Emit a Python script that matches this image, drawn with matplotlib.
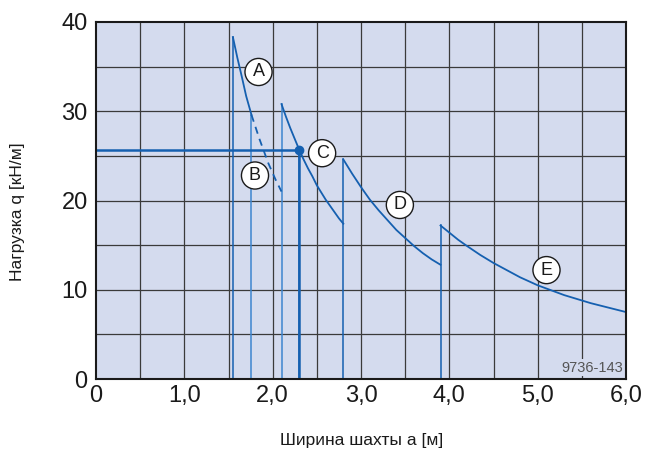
import matplotlib
matplotlib.use("Agg")
import matplotlib.pyplot as plt
from matplotlib import font_manager

names = {f.name for f in font_manager.fontManager.ttflist}
narrow = 'Liberation Sans Narrow' if 'Liberation Sans Narrow' in names else 'Liberation Sans'

plt.rcParams['font.family'] = ['Liberation Sans', 'DejaVu Sans']

# Data
a_x = [1.55, 1.60, 1.65, 1.70, 1.76]
a_y = [38.3, 36.0, 33.9, 31.7, 29.6]
b_x = [1.76, 1.85, 1.95, 2.03, 2.10]
b_y = [29.6, 26.9, 24.2, 22.4, 21.0]
c_x = [2.10, 2.15, 2.20, 2.25, 2.30, 2.35, 2.40, 2.45, 2.50, 2.55, 2.60, 2.65, 2.70, 2.75, 2.80]
c_y = [30.8, 29.4, 28.1, 26.9, 25.7, 24.6, 23.6, 22.7, 21.7, 20.9, 20.1, 19.4, 18.7, 18.0, 17.4]
d_x = [2.80, 2.90, 3.00, 3.10, 3.20, 3.30, 3.40, 3.50, 3.60, 3.70, 3.80, 3.90]
d_y = [24.6, 23.0, 21.5, 20.1, 18.9, 17.8, 16.7, 15.8, 14.9, 14.1, 13.4, 12.8]
e_x = [3.90, 4.00, 4.10, 4.20, 4.35, 4.50, 4.65, 4.80, 5.00, 5.15, 5.30, 5.45, 5.60, 5.80, 6.00]
e_y = [17.2, 16.4, 15.6, 14.9, 13.9, 13.0, 12.2, 11.4, 10.5, 9.95, 9.4, 8.95, 8.5, 8.0, 7.5]

vlines_x = [1.55, 1.76, 2.10, 2.30, 2.80, 3.90]
vlines_top = [38.3, 29.6, 30.8, 25.7, 24.6, 17.2]
vlines_col = ['#1560b0', '#3d85cf', '#3d85cf', '#1560b0', '#1560b0', '#1560b0']

point_x, point_y = 2.30, 25.7

labels = ['A', 'B', 'C', 'D', 'E']
label_x = [1.84, 1.80, 2.56, 3.44, 5.10]
label_y = [34.4, 22.8, 25.3, 19.5, 12.2]

xticks = [0, 1, 2, 3, 4, 5, 6]
xticklabels = ['0', '1,0', '2,0', '3,0', '4,0', '5,0', '6,0']
yticks = [0, 10, 20, 30, 40]

blue = '#1560b0'

fig = plt.figure(figsize=(6.45, 4.62), dpi=100)
ax = fig.add_axes([96/645, 83/462, 530/645, 357/462])
ax.set_facecolor('#d4dbee')
ax.set_xlim(0, 6)
ax.set_ylim(0, 40)

# grid
for gx in [i * 0.5 for i in range(1, 12)]:
    ax.axvline(gx, color='#3a3a3a', lw=0.9, zorder=1)
for gy in [i * 5 for i in range(1, 8)]:
    ax.axhline(gy, color='#3a3a3a', lw=0.9, zorder=1)

for xv, top, col in zip(vlines_x, vlines_top, vlines_col):
    ax.plot([xv, xv], [0, top], color=col, lw=1.1, zorder=3)

kw = dict(color=blue, lw=1.3, zorder=4, solid_joinstyle='round')
ax.plot(a_x, a_y, **kw)
ax.plot(b_x, b_y, color=blue, lw=1.3, ls=(0, (4, 3)), zorder=4)
ax.plot(c_x, c_y, **kw)
ax.plot(d_x, d_y, **kw)
ax.plot(e_x, e_y, **kw)

ax.plot([0, point_x], [point_y, point_y], color=blue, lw=1.8, zorder=4)
ax.plot([point_x, point_x], [0, point_y], color=blue, lw=1.8, zorder=4)
ax.plot([point_x], [point_y], 'o', color=blue, ms=6, zorder=5)

for t, lx, ly in zip(labels, label_x, label_y):
    ax.text(lx, ly, t, ha='center', va='center', fontsize=13, color='#1a1a1a', zorder=6,
            bbox=dict(boxstyle='circle,pad=0.28', fc='white', ec='#1a1a1a', lw=1.0))

ax.text(5.965, 0.8, '9736-143', ha='right', va='baseline', fontsize=10.5, color='#555555',
        family=[narrow, 'DejaVu Sans'], zorder=6,
        bbox=dict(boxstyle='square,pad=0.1', fc='#d4dbee', ec='none'))

ax.set_xticks(xticks)
ax.set_xticklabels(xticklabels)
ax.set_yticks(yticks)
ax.tick_params(length=0, labelsize=17, colors='#1a1a1a')
ax.tick_params(axis='x', pad=4)
ax.tick_params(axis='y', pad=6)
ax.get_yticklabels()[0].set_verticalalignment('center_baseline')
for s in ax.spines.values():
    s.set_linewidth(1.5)
    s.set_color('#1a1a1a')
    s.set_zorder(7)

fig.text(362/645, 1 - 441/462, 'Ширина шахты a [м]', ha='center', va='center', fontsize=12.5, color='#1a1a1a')
fig.text(18/645, 1 - 212/462, 'Нагрузка q [кН/м]', ha='center', va='center', rotation=90, fontsize=12.5, color='#1a1a1a')

fig.savefig('out.png', dpi=100)
